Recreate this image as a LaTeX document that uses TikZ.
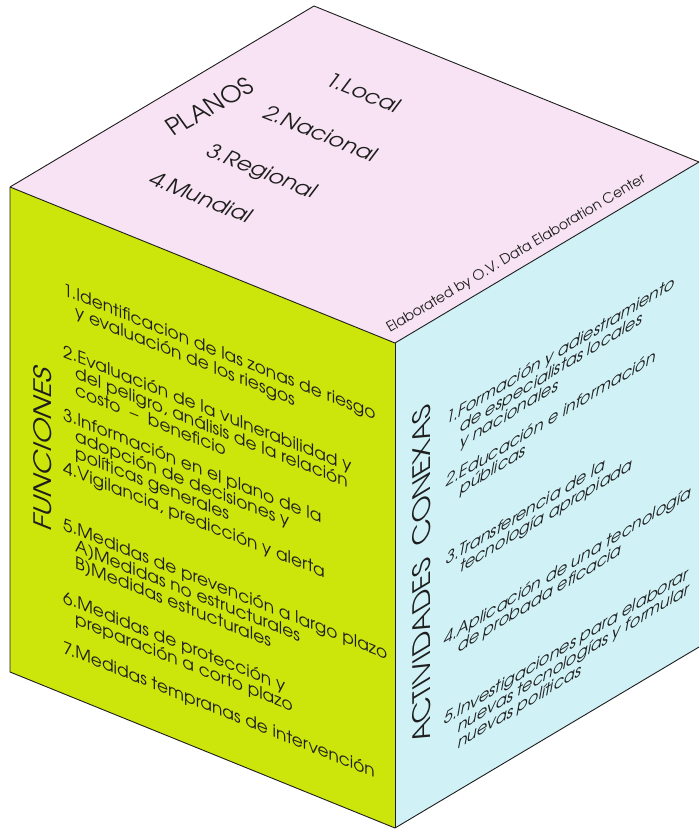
\documentclass[tikz,border=0pt]{standalone}
\usepackage{fontspec}
\setmainfont{texgyreadventor-regular.otf}
\definecolor{topc}{RGB}{247,227,243}
\definecolor{leftc}{RGB}{204,229,10}
\definecolor{rightc}{RGB}{208,241,246}
\definecolor{ink}{RGB}{30,30,30}
\begin{document}
\begin{tikzpicture}[x=1pt,y=-1pt,
  edge/.style={draw=ink,line width=0.9pt,line join=round},
  lftext/.style={anchor=base west,inner sep=0pt,text=ink,yslant=-0.4,font=\fontsize{17}{20}\selectfont},
  rttext/.style={anchor=base west,inner sep=0pt,text=ink,yslant=0.6,xslant=0.2,font=\fontsize{16}{18}\selectfont},
  toptext/.style={anchor=base west,inner sep=0pt,text=ink,cm={1,-0.405,0.6,0.8,(0,0)},font=\fontsize{21}{24}\selectfont},
  edgetext/.style={anchor=base west,inner sep=0pt,text=ink,rotate=30.6,font=\fontsize{14}{16}\selectfont},
  planos/.style={anchor=base west,inner sep=0pt,text=ink,rotate=29,xslant=-0.12,font=\fontsize{24}{28}\selectfont},
  lefttitle/.style={anchor=base west,inner sep=0pt,text=ink,yslant=-0.4,rotate=90,xscale=1.22,font=\fontsize{24}{28}\selectfont},
  righttitle/.style={anchor=base west,inner sep=0pt,text=ink,yslant=0.6,rotate=90,xscale=1.2,font=\fontsize{24}{28}\selectfont}]
\useasboundingbox (0,0) rectangle (699,829);
\fill[white] (0,0) rectangle (699,829);
% cube vertices
\coordinate (T) at (314,6);
\coordinate (L) at (10,187);
\coordinate (F) at (395,343);
\coordinate (R) at (699,162);
\coordinate (LB) at (10,672);
\coordinate (FB) at (395,828);
\coordinate (RB) at (699,647);
% faces
\fill[topc] (L)--(T)--(R)--(F)--cycle;
\fill[leftc] (L)--(F)--(FB)--(LB)--cycle;
\fill[rightc] (F)--(R)--(RB)--(FB)--cycle;
% edges
\draw[edge] (L)--(T)--(R);
\draw[edge] (L)--(F)--(R);
\draw[edge] (F)--(FB);
\draw[edge] (L)--(LB)--(FB)--(RB);
% top face
\node[planos] (planos) at (173,137) {PLANOS};
\node[toptext] (t1) at (323,84) {1.Local};
\node[toptext] (t2) at (261,117) {2.Nacional};
\node[toptext] (t3) at (204,155) {3.Regional};
\node[toptext] (t4) at (147,183) {4.Mundial};
\node[edgetext] (credit) at (390,333) {Elaborated by O.V. Data Elaboration Center};
% left face
\node[lefttitle] (funciones) at (51,533) {FUNCIONES};
\node[lftext] (f1) at (63,295) {1.Identificacion de las zonas de riesgo};
\node[lftext] (f1b) at (75,317.8) {y evaluación de los riesgos};
\node[lftext] (f2) at (63,357) {2.Evaluación de la vulnerabilidad y};
\node[lftext] (f2b) at (75,378.8) {del peligro, análisis de la relación};
\node[lftext] (f2c) at (75,395.8) {costo \ – \ beneficio};
\node[lftext] (f3) at (63,420) {3.Información en el plano de la};
\node[lftext] (f3b) at (75,441.8) {adopción de decisiones y};
\node[lftext] (f3c) at (75,458.8) {políticas generales};
\node[lftext] (f4) at (63,473) {4.Vigilancia, predicción y alerta};
\node[lftext] (f5) at (63,530) {5.Medidas de prevención a largo plazo};
\node[lftext] (f5a) at (75,551.8) {A)Medidas no estructurales};
\node[lftext] (f5b) at (75,568.8) {B)Medidas estructurales};
\node[lftext] (f6) at (63,603) {6.Medidas de protección y};
\node[lftext] (f6b) at (75,624.8) {preparación a corto plazo};
\node[lftext] (f7) at (63,653) {7.Medidas tempranas de intervención};
% right face
\node[righttitle] (actividades) at (430,738) {ACTIVIDADES \ CONEXAS};
\node[rttext] (r1) at (445,426) {1.Formación y adiestramiento};
\node[rttext] (r1b) at (459,433.6) {de especialistas locales};
\node[rttext] (r1c) at (459,449.6) {y nacionales};
\node[rttext] (r2) at (445,488) {2.Educación e información};
\node[rttext] (r2b) at (459,495.6) {públicas};
\node[rttext] (r3) at (445,566) {3.Transferencia de la};
\node[rttext] (r3b) at (459,573.6) {tecnología apropiada};
\node[rttext] (r4) at (443,646) {4.Aplicación de una tecnología};
\node[rttext] (r4b) at (457,653.6) {de probada eficacia};
\node[rttext] (r5) at (443,726) {5.Investigaciones para elaborar};
\node[rttext] (r5b) at (457,733.6) {nuevas tecnologías y formular};
\node[rttext] (r5c) at (457,749.6) {nuevas políticas};
\end{tikzpicture}
\end{document}
